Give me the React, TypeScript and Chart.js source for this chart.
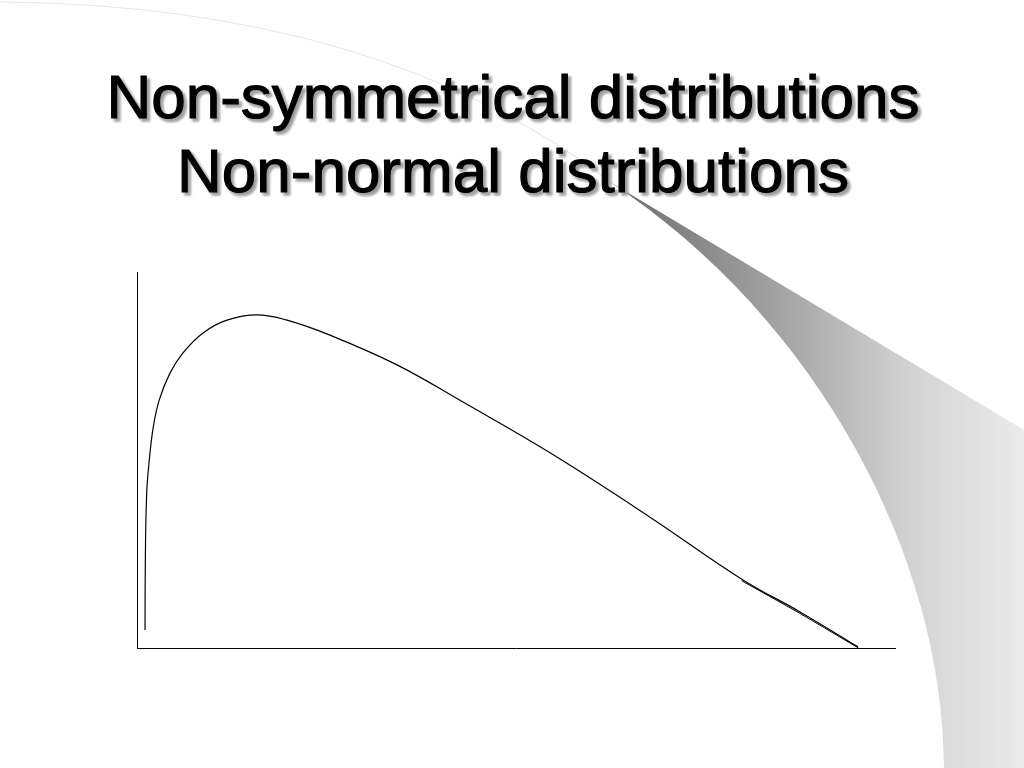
import React, { useEffect, useRef } from 'react';
import { Chart, registerables } from 'chart.js';

Chart.register(...registerables);

// Title lines
const titleLines = ['Non-symmetrical distributions', 'Non-normal distributions'];

// Skewed distribution curve (x: 0..100 horizontal extent, y: 0..100 density height)
const curveX = [1.06, 1.1, 1.28, 1.62, 2.15, 2.94, 4.35, 6.07, 8.71, 11.87, 15.83, 19.79, 25.46, 34.3, 43.01, 54.49, 67.68, 79.95, 87.47, 95.12];
const curveY = [4.8, 23.4, 41.2, 50.0, 58.8, 66.0, 73.1, 78.5, 83.8, 87.2, 88.6, 87.2, 83.2, 75.3, 65.4, 51.9, 34.8, 18.1, 9.6, 0.3];

// Short doubled stroke near the tail
const tailX = [79.77, 87.47, 95.18];
const tailY = [17.9, 9.2, 0.0];

const W = 1024;
const H = 768;

const slidePlugin = {
  id: 'slideDecor',
  beforeDraw(chart: any) {
    const ctx: CanvasRenderingContext2D = chart.ctx;
    ctx.save();
    ctx.fillStyle = '#ffffff';
    ctx.fillRect(0, 0, W, H);

    // faint arc at top-left
    ctx.beginPath();
    ctx.moveTo(0, 2);
    ctx.quadraticCurveTo(380, 5, 612, 183);
    ctx.strokeStyle = '#e6e6e6';
    ctx.lineWidth = 1.2;
    ctx.stroke();

    // page-curl wedge
    ctx.beginPath();
    ctx.moveTo(610, 182);
    ctx.lineTo(1024, 430);
    ctx.lineTo(1024, 768);
    ctx.lineTo(944, 768);
    ctx.bezierCurveTo(944, 560, 820, 320, 610, 182);
    ctx.closePath();
    const g = ctx.createLinearGradient(610, 0, 1024, 0);
    g.addColorStop(0, '#6c6c6c');
    g.addColorStop(0.45, '#a9a9a9');
    g.addColorStop(0.72, '#d2d2d2');
    g.addColorStop(1, '#ebebeb');
    ctx.fillStyle = g;
    ctx.fill();
    ctx.restore();
  },
  afterDraw(chart: any) {
    const ctx: CanvasRenderingContext2D = chart.ctx;
    ctx.save();
    ctx.font = '62px "Liberation Sans", Arial, sans-serif';
    ctx.textAlign = 'center';
    ctx.textBaseline = 'alphabetic';
    const baselines = [118, 192];
    // shadow
    ctx.fillStyle = '#9a9a9a';
    ctx.strokeStyle = '#9a9a9a';
    ctx.lineWidth = 1.2;
    ctx.filter = 'blur(1px)';
    titleLines.forEach((t, i) => {
      ctx.fillText(t, 516, baselines[i] + 3);
      ctx.strokeText(t, 516, baselines[i] + 3);
    });
    ctx.filter = 'none';
    ctx.fillStyle = '#000000';
    ctx.strokeStyle = '#000000';
    ctx.lineWidth = 1.1;
    titleLines.forEach((t, i) => {
      ctx.fillText(t, 513, baselines[i]);
      ctx.strokeText(t, 513, baselines[i]);
    });
    ctx.restore();
  },
};

export default function App() {
  const ref = useRef<HTMLCanvasElement | null>(null);
  useEffect(() => {
    if (!ref.current) return;
    const chart = new Chart(ref.current, {
      type: 'line',
      data: {
        datasets: [
          {
            data: curveX.map((x, i) => ({ x, y: curveY[i] })),
            borderColor: '#000000',
            borderWidth: 1.2,
            pointRadius: 0,
            tension: 0.4,
            fill: false,
          },
          {
            data: tailX.map((x, i) => ({ x, y: tailY[i] })),
            borderColor: '#000000',
            borderWidth: 1,
            pointRadius: 0,
            tension: 0,
            fill: false,
          },
        ],
      },
      options: {
        animation: false,
        responsive: false,
        devicePixelRatio: 1,
        clip: false,
        layout: { padding: { left: 137, top: 272, right: 129, bottom: 120 } },
        plugins: { legend: { display: false }, tooltip: { enabled: false }, title: { display: false } },
        scales: {
          x: {
            type: 'linear',
            min: 0,
            max: 100,
            grid: { display: false, drawTicks: false },
            ticks: { display: false },
            border: { display: true, color: '#000000', width: 1 },
          },
          y: {
            type: 'linear',
            min: 0,
            max: 100,
            grid: { display: false, drawTicks: false },
            ticks: { display: false },
            border: { display: true, color: '#000000', width: 1 },
          },
        },
      },
      plugins: [slidePlugin],
    } as any);
    return () => chart.destroy();
  }, []);
  return (
    <div style={{ position: 'absolute', left: 0, top: 0, width: W, height: H }}>
      <canvas ref={ref} width={W} height={H} style={{ width: W, height: H, display: 'block' }} />
    </div>
  );
}
